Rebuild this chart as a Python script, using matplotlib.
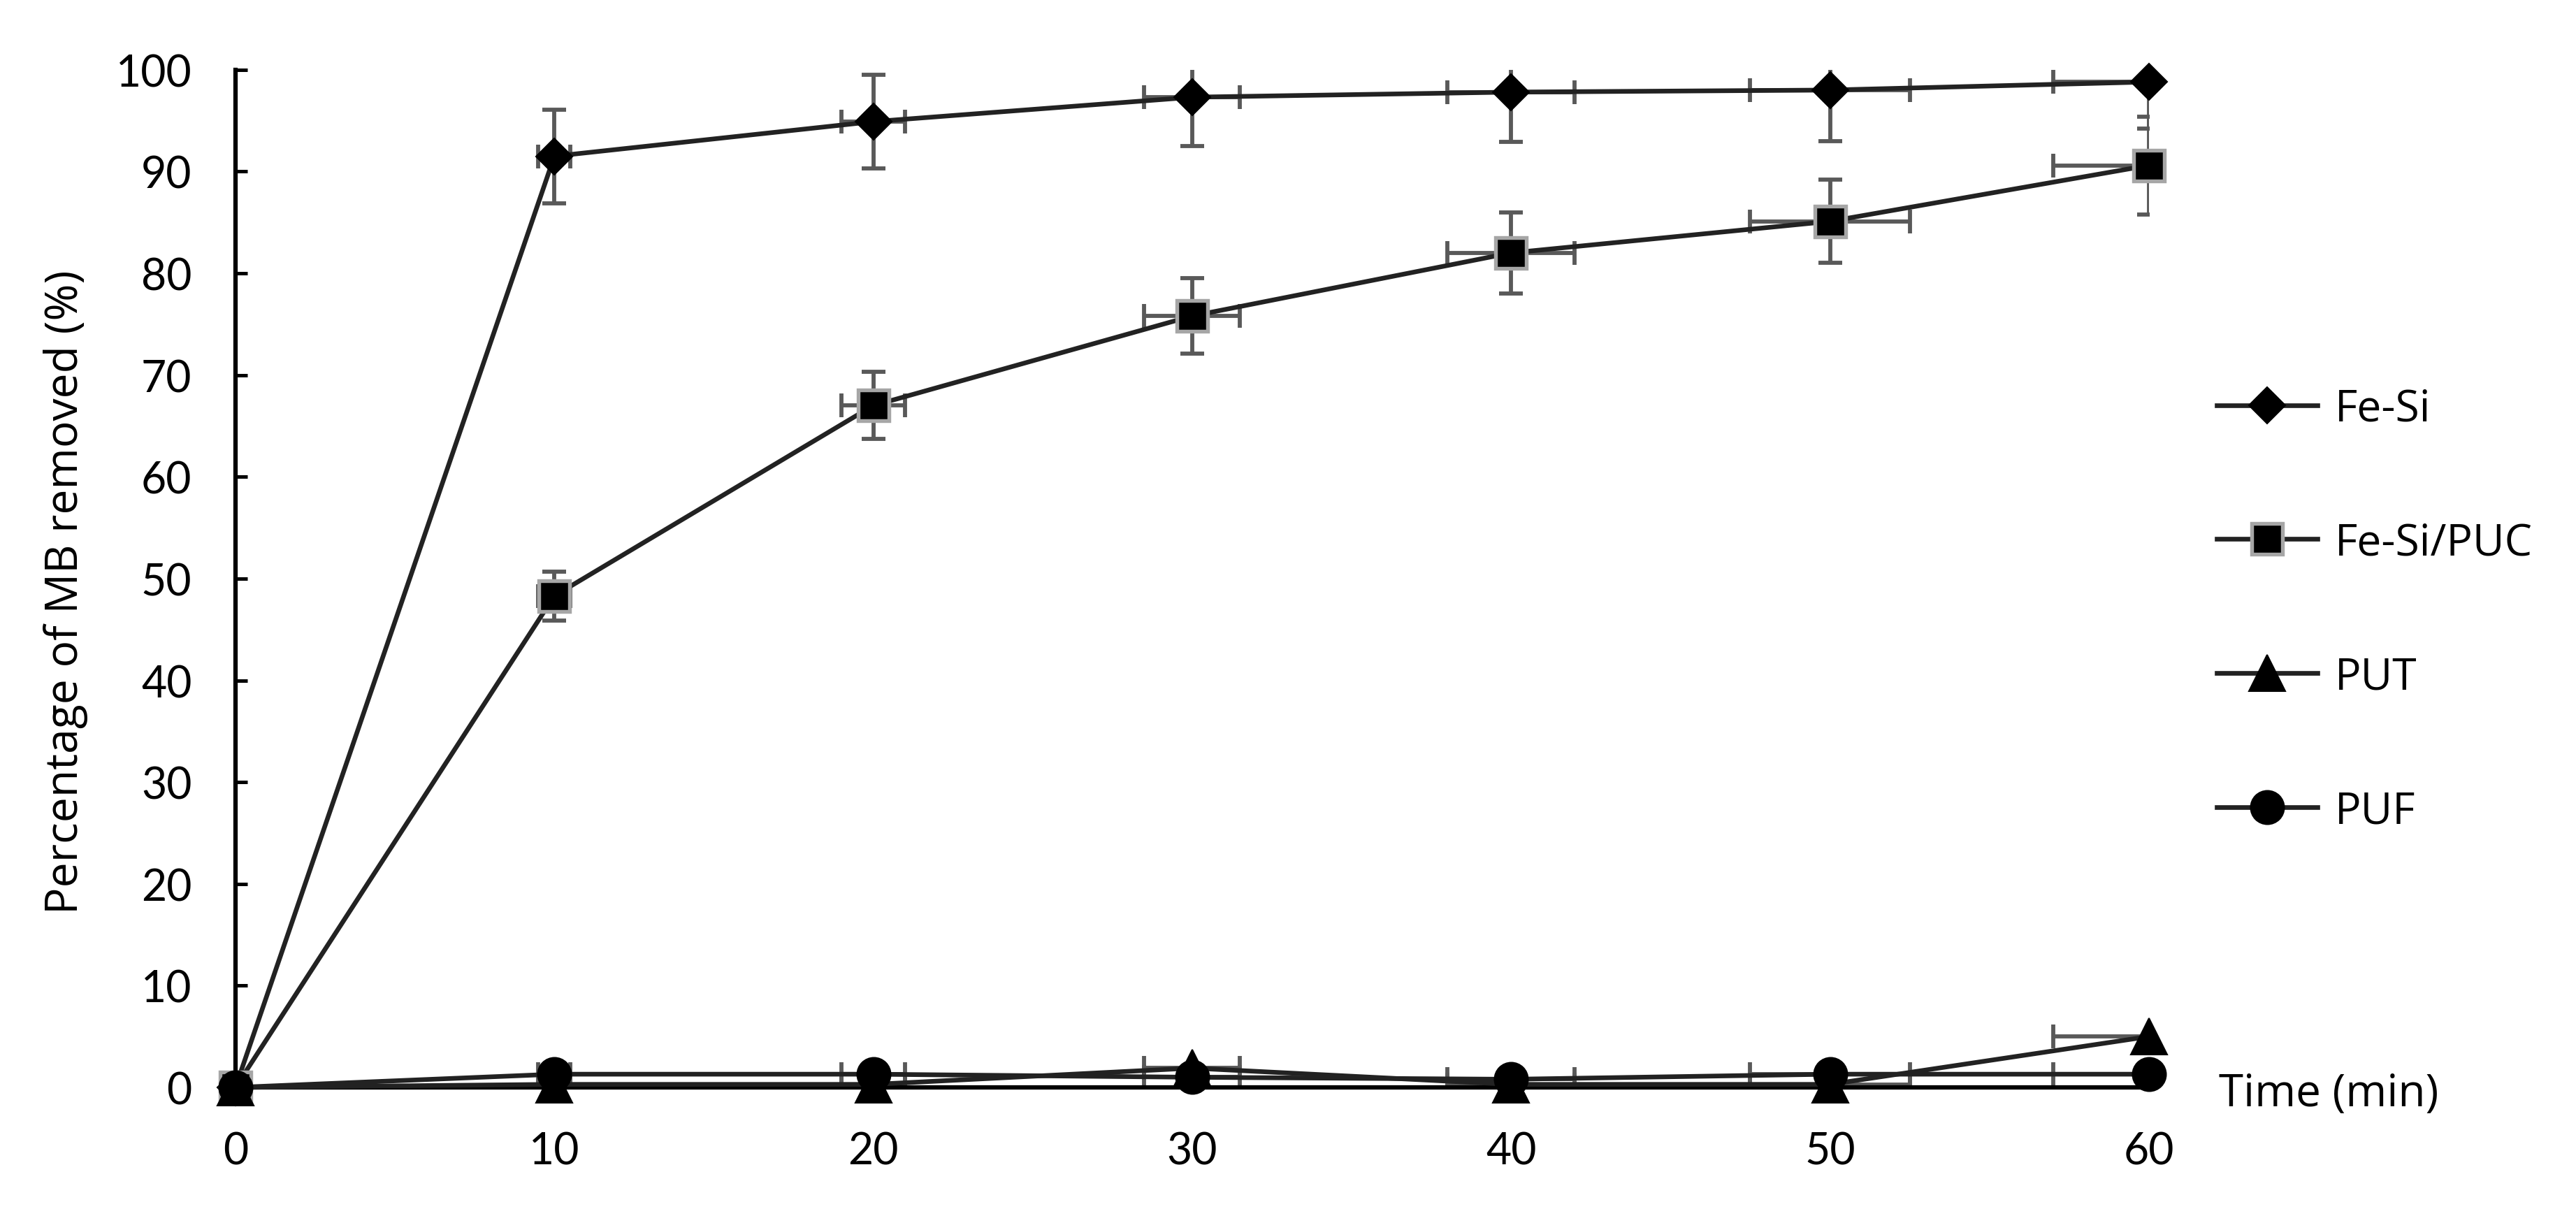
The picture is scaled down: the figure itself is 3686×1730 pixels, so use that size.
#!/usr/bin/env python3
# -*- coding: utf-8 -*-
"""
MB removal kinetics - Fe-Si, Fe-Si/PUC, PUT, PUF
Single panel, Excel-like look (inside ticks, no box, legend right).
"""
import matplotlib
matplotlib.use('Agg')  # Non-interactive backend
import matplotlib.pyplot as plt

plt.rcParams['font.family'] = ['Lato', 'DejaVu Sans']

# --- data ---
time_min = [0, 10, 20, 30, 40, 50, 60]
time_err = [0, 0.5, 1.0, 1.5, 2.0, 2.5, 3.0]

fesi = [0, 91.5, 94.9, 97.3, 97.8, 98.0, 98.8]
fesi_err = [0, 4.6, 4.6, 4.8, 4.9, 5.0, 4.6]

fesi_puc = [0, 48.3, 67.0, 75.8, 82.0, 85.1, 90.6]
fesi_puc_err = [0, 2.4, 3.3, 3.7, 4.0, 4.1, 4.8]

put = [0, 0.3, 0.3, 1.9, 0.3, 0.3, 5.0]
puf = [0, 1.3, 1.3, 1.0, 0.8, 1.3, 1.3]

labels = ['Fe-Si', 'Fe-Si/PUC', 'PUT', 'PUF']

LINE_COLOR = '#222222'
ERR_COLOR = '#595959'
FS = 15
TITLE_FONT = ['Open Sans', 'DejaVu Sans']


def main():
    fig = plt.figure(figsize=(3686 / 300, 1731 / 300), dpi=300)
    ax = fig.add_axes([0.0914, 0.1005, 0.7428, 0.8413])

    # error bars first (clipped to the plot area like Excel does)
    for y, yerr in [(fesi, fesi_err), (fesi_puc, fesi_puc_err),
                    (put, None), (puf, None)]:
        ax.errorbar(time_min, y, yerr=yerr, xerr=time_err, fmt='none',
                    ecolor=ERR_COLOR, elinewidth=1.4, capsize=4, capthick=1.4,
                    zorder=2)

    # series lines + markers
    styles = [
        dict(marker='D', ms=8.8, mfc='black', mec='black', mew=0.5),
        dict(marker='s', ms=10.6, mfc='black', mec='#a6a6a6', mew=1.3),
        dict(marker='^', ms=12.3, mfc='black', mec='black', mew=0.5),
        dict(marker='o', ms=11.5, mfc='black', mec='black', mew=0.5),
    ]
    for y, lab, st in zip([fesi, fesi_puc, put, puf], labels, styles):
        ax.plot(time_min, y, color=LINE_COLOR, lw=1.6, label=lab,
                zorder=3, clip_on=False, **st)

    ax.set_xlim(0, 60)
    ax.set_ylim(0, 100)
    ax.set_xticks(range(0, 61, 10))
    ax.set_yticks(range(0, 101, 10))

    for side in ('top', 'right'):
        ax.spines[side].set_visible(False)
    for side in ('left', 'bottom'):
        ax.spines[side].set_linewidth(1.5)
        ax.spines[side].set_color('black')

    ax.tick_params(axis='both', direction='in', length=4, width=1.2,
                   labelsize=FS, pad=15)

    fig.text(0.0255, 1 - 847 / 1731, 'Percentage of MB removed (%)',
             rotation=90, ha='center', va='center', fontsize=15.4,
             family=TITLE_FONT)
    fig.text(3175 / 3686, 1 - 1583 / 1731, 'Time (min)', ha='left',
             va='baseline', fontsize=15.3, family=TITLE_FONT)

    ax.legend(loc='center left', bbox_to_anchor=(3172 / 3686, 1 - 874 / 1731),
              bbox_transform=fig.transFigure, frameon=False,
              prop={'family': TITLE_FONT, 'size': FS},
              handlelength=2.3, handletextpad=0.4, labelspacing=2.07,
              borderpad=0, borderaxespad=0, numpoints=1)

    fig.savefig('out.png', dpi=300, facecolor='white')
    plt.close(fig)


if __name__ == '__main__':
    main()
